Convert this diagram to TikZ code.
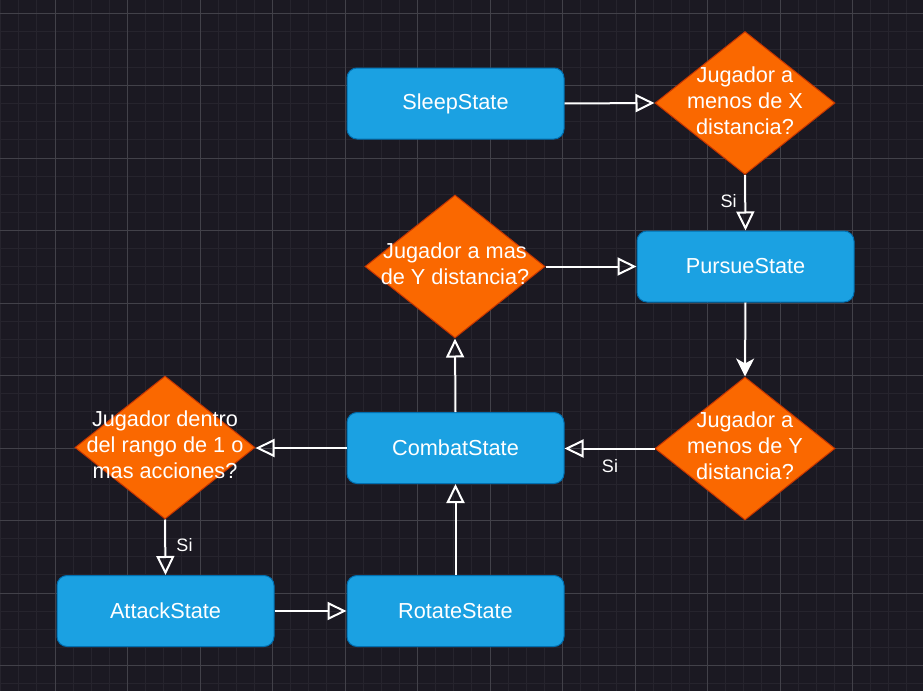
\documentclass[tikz,border=0pt]{standalone}
\usepackage{fontspec}
\setmainfont{Liberation Sans}
\usetikzlibrary{shapes.geometric,arrows.meta}

\definecolor{fondo}{HTML}{1B1922}
\definecolor{rejilla}{HTML}{26242D}
\definecolor{rejillamayor}{HTML}{424149}
\definecolor{azul}{HTML}{1BA1E2}
\definecolor{azulborde}{HTML}{006EAF}
\definecolor{naranja}{HTML}{FA6800}
\definecolor{naranjaborde}{HTML}{C73500}

\tikzset{
  estado/.style={rectangle, rounded corners=5pt, fill=azul, draw=azulborde, line width=0.5pt,
    minimum width=108.5pt, minimum height=35.5pt, text=white, font=\fontsize{10.85}{13}\selectfont},
  decision/.style={diamond, fill=naranja, draw=naranjaborde, line width=0.5pt, inner sep=0pt,
    minimum width=90pt, minimum height=71.5pt},
  pregunta/.style={align=center, text=white, inner sep=0pt, font=\fontsize{10.85}{13}\selectfont},
  etiqueta/.style={text=white, inner sep=1pt, font=\fontsize{9}{11}\selectfont},
  flecha/.style={draw=white, line width=1pt, -{Triangle[open, length=9.5pt, width=9pt]}},
  flechallena/.style={draw=white, line width=1pt, -{Stealth[length=9pt, width=9pt, inset=2.5pt]}}
}

\begin{document}
\begin{tikzpicture}[x=0.5pt, y=-0.5pt]
    % fondo y rejilla
    \useasboundingbox (0,0) rectangle (923,691);
    \fill[fondo] (0,0) rectangle (923,691);
    \begin{scope}
    \clip (0,0) rectangle (923,691);
    \foreach \i in {-3,...,48}
        \draw[rejilla, line width=0.5pt] ({55+18.125*\i},0) -- ++(0,691);
    \foreach \j in {-1,...,37}
        \draw[rejilla, line width=0.5pt] (0,{13+18.125*\j}) -- ++(923,0);
    \foreach \i in {0,...,12}
        \draw[rejillamayor, line width=0.4pt] ({55+72.5*\i},0) -- ++(0,691);
    \foreach \j in {0,...,9}
        \draw[rejillamayor, line width=0.4pt] (0,{13+72.5*\j}) -- ++(923,0);
    \end{scope}

    % estados
    \node[estado] (sleep) at (455.5,103.5) {SleepState};
    \node[estado] (pursue) at (745.5,266.5) {PursueState};
    \node[estado] (combat) at (455.5,448) {CombatState};
    \node[estado] (attack) at (165.5,611) {AttackState};
    \node[estado] (rotate) at (455.5,611) {RotateState};

    % decisiones
    \node[decision] (menosX) at (745,103) {};
    \node[pregunta] (menosXtexto) at (745,101) {Jugador a\\menos de X\\distancia?};
    \node[decision] (masY) at (455,266.5) {};
    \node[pregunta] (masYtexto) at (455,264) {Jugador a mas\\de Y distancia?};
    \node[decision] (menosY) at (745,448.5) {};
    \node[pregunta] (menosYtexto) at (745,446) {Jugador a\\menos de Y\\distancia?};
    \node[decision] (rango) at (165,447.5) {};
    \node[pregunta] (rangotexto) at (165,445) {Jugador dentro\\del rango de 1 o\\mas acciones?};

    % conexiones
    \draw[flecha] (sleep.east) -- (menosX.west);
    \draw[flecha] (menosX.south) -- (pursue.north);
    \draw[flecha] (masY.east) -- (masY.east -| pursue.west);
    \draw[flechallena] (pursue.south) -- (menosY.north);
    \draw[flecha] (menosY.west) -- (menosY.west -| combat.east);
    \draw[flecha] (combat.north) -- (masY.south);
    \draw[flecha] (combat.west) -- (combat.west -| rango.east);
    \draw[flecha] (rango.south) -- (attack.north);
    \draw[flecha] (attack.east) -- (rotate.west);
    \draw[flecha] (rotate.north) -- (combat.south);

    % etiquetas
    \node[etiqueta] (si1) at (728.5,201.5) {Si};
    \node[etiqueta] (si2) at (610,466) {Si};
    \node[etiqueta] (si3) at (184.5,545.5) {Si};
\end{tikzpicture}
\end{document}
